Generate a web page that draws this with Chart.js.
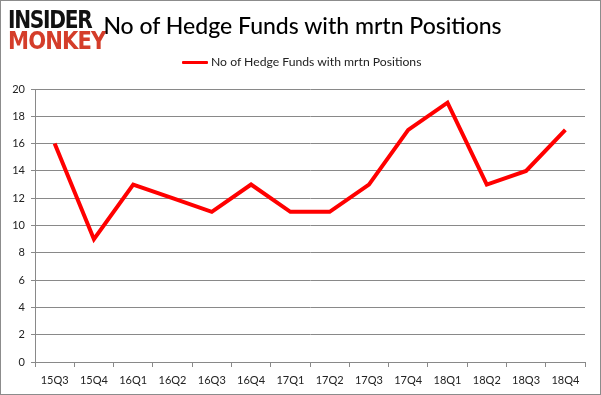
<!DOCTYPE html>
<html><head><meta charset="utf-8">
<script src="https://cdn.jsdelivr.net/npm/chart.js@4"></script>
<style>
html,body{margin:0;padding:0;background:#fff;}
#wrap{position:relative;width:601px;height:395px;overflow:hidden;}
#c{position:absolute;left:0;top:0;}
#frame{position:absolute;left:0;top:0;width:601px;height:395px;box-sizing:border-box;border:1px solid #8c8c8c;pointer-events:none;}
.t{position:absolute;white-space:nowrap;}
#logo1{left:8px;top:6px;font:900 24px "DejaVu Sans";color:#111;letter-spacing:-1.5px;transform:scaleX(0.84);transform-origin:left top;}
#logo2{left:8px;top:27px;font:900 24px "DejaVu Sans";color:#d43d2a;letter-spacing:-1px;transform:scaleX(0.88);transform-origin:left top;}
#title{left:0;width:601px;text-align:center;top:11px;font:500 23px Lato;color:#000;padding-left:2px;}
#leg{left:182px;top:54px;font:12.2px Lato;color:#222;}
#legline{display:inline-block;width:26px;height:3px;background:#ff0000;vertical-align:middle;margin-right:3px;border-radius:1px;}
</style></head>
<body><div id="wrap">
<canvas id="c" width="601" height="395"></canvas>
<div class="t" id="logo1">INSIDER</div>
<div class="t" id="logo2">MONKEY</div>
<div class="t" id="title">No of Hedge Funds with mrtn Positions</div>
<div class="t" id="leg"><span id="legline"></span>No of Hedge Funds with mrtn Positions</div>
<div id="frame"></div>
</div>
<script>
const categories = ["15Q3","15Q4","16Q1","16Q2","16Q3","16Q4","17Q1","17Q2","17Q3","17Q4","18Q1","18Q2","18Q3","18Q4"];
const hedgeFunds = [16,9,13,12,11,13,11,11,13,17,19,13,14,17];
const seriesName = "No of Hedge Funds with mrtn Positions";
const yTicks = [0,2,4,6,8,10,12,14,16,18,20];

new Chart(document.getElementById('c'), {
  type: 'line',
  data: { labels: categories, datasets: [{ label: seriesName, data: hedgeFunds, borderColor: '#ff0000', borderWidth: 4, pointRadius: 0, tension: 0, fill: false }] },
  options: {
    responsive: false, animation: false, devicePixelRatio: 1,
    layout: { padding: { left: 8, right: 16, top: 89, bottom: 0 } },
    plugins: { legend: { display: false }, title: { display: false }, tooltip: { enabled: false } },
    scales: {
      x: {
        offset: true,
        grid: { display: true, offset: true, drawOnChartArea: false, color: '#898989', tickLength: 5 },
        border: { color: '#898989' },
        ticks: { color: '#222', font: { family: 'Lato', size: 11 }, padding: 7, maxRotation: 0, autoSkip: false },
        afterFit: s => { s.height = 33; }
      },
      y: {
        min: 0, max: 20,
        afterBuildTicks: s => { s.ticks = yTicks.map(v => ({ value: v })); },
        grid: { color: '#898989', tickLength: 4 },
        border: { color: '#898989' },
        ticks: { color: '#222', font: { family: 'Lato', size: 11 }, padding: 6 },
        afterFit: s => { s.width = 27; }
      }
    }
  }
});
</script>
</body></html>
